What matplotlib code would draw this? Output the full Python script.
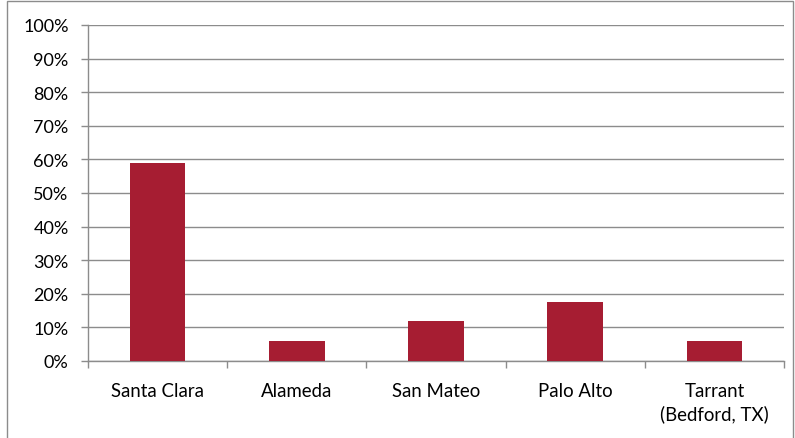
import matplotlib.pyplot as plt
from matplotlib.patches import Rectangle
from matplotlib.ticker import PercentFormatter, FixedLocator

plt.rcParams['font.family'] = ['Lato', 'DejaVu Sans']

# Data
categories = ['Santa Clara', 'Alameda', 'San Mateo', 'Palo Alto', 'Tarrant\n(Bedford, TX)']
shares = [58.8, 5.9, 11.8, 17.6, 5.9]

bar_color = '#A61D32'
grid_color = '#8C8C8C'

fig = plt.figure(figsize=(7.95, 4.39), dpi=100)
ax = fig.add_axes([88 / 795, 77 / 439, 696 / 795, 336 / 439])

# chart border
fig.patches.append(Rectangle((7 / 795, -0.01), 786 / 795, 437 / 439 + 0.01,
                             transform=fig.transFigure, fill=False,
                             edgecolor='#8C8C8C', linewidth=1.0))

x = list(range(len(categories)))
ax.bar(x, shares, width=0.4, color=bar_color, zorder=3)

ax.set_xlim(-0.5, len(categories) - 0.5)
ax.set_ylim(0, 100)
ax.set_yticks(range(0, 101, 10))
ax.yaxis.set_major_formatter(PercentFormatter(decimals=0))
ax.yaxis.grid(True, color=grid_color, linewidth=1.0, zorder=0)

ax.set_xticks(x)
ax.set_xticklabels(categories, linespacing=1.35)
ax.xaxis.set_minor_locator(FixedLocator([i - 0.5 for i in range(len(categories) + 1)]))
ax.tick_params(axis='x', which='major', length=0, pad=15, labelsize=13.4)
ax.tick_params(axis='x', which='minor', length=5, color=grid_color, width=1.0)
ax.tick_params(axis='y', length=5, color=grid_color, width=1.0, pad=9, labelsize=13)

for side in ['top', 'right']:
    ax.spines[side].set_visible(False)
for side in ['left', 'bottom']:
    ax.spines[side].set_color(grid_color)
    ax.spines[side].set_linewidth(1.0)

fig.savefig('out.png', dpi=100)
